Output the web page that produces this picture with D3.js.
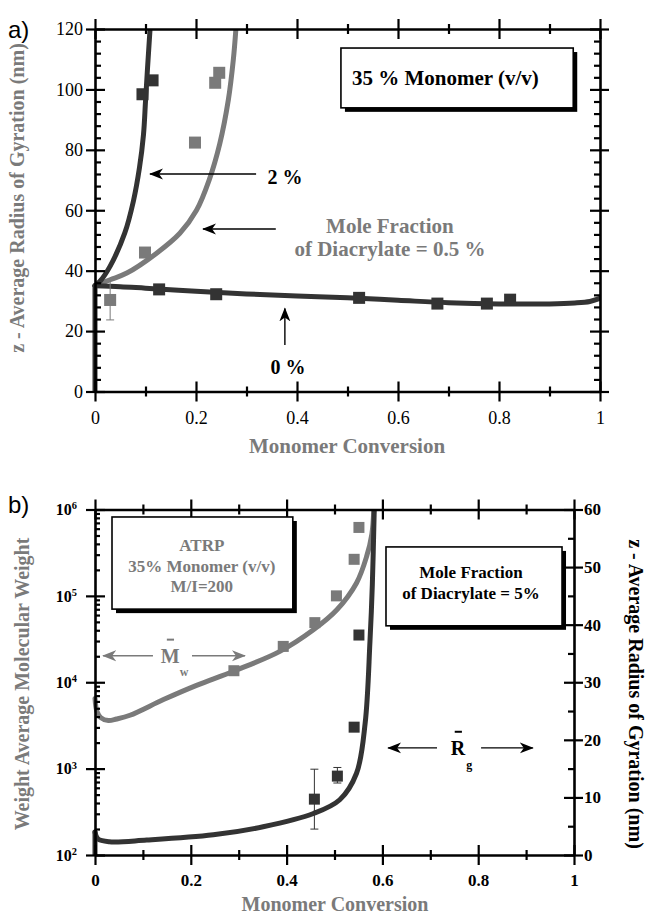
<!DOCTYPE html>
<html>
<head>
<meta charset="utf-8">
<script src="https://cdn.jsdelivr.net/npm/d3@7"></script>
<style>
body { margin: 0; background: #fff; }
text { font-family: "Liberation Serif", "Times New Roman", serif; }
.axis path, .axis line { stroke: #000; stroke-width: 2.2; }
.axis .domain { stroke-width: 2.6; }
</style>
</head>
<body>
<div id="chart"></div>
<script>
// ---------- data ----------
var convTicks = [0, 0.2, 0.4, 0.6, 0.8, 1],
    convMinor = [0.1, 0.3, 0.5, 0.7, 0.9];

// panel a: z-average Rg (nm) vs conversion
var rgTicksA = [0, 20, 40, 60, 80, 100, 120];
var rise0 = [[0, 0], [0, 35]];
var curve0 = [[0, 35], [0.05, 34.7], [0.1, 34.2], [0.2, 33.2], [0.3, 32.3], [0.4, 31.6], [0.5, 31], [0.6, 30.2],
              [0.7, 29.4], [0.8, 29], [0.9, 29], [0.95, 29.3], [0.98, 29.8], [1, 30.8]];
var curve2 = [[0, 35], [0.01, 36.5], [0.03, 41.5], [0.059, 52.5], [0.076, 63], [0.088, 74],
              [0.096, 85], [0.1, 96], [0.104, 107], [0.109, 120]];
var curve05 = [[0, 35], [0.03, 37], [0.063, 39.2], [0.122, 45.8], [0.168, 52.4], [0.201, 60],
               [0.226, 70], [0.247, 82], [0.264, 96.5], [0.274, 110], [0.279, 120]];
var pts0 = [[0.127, 33.8], [0.24, 32.2], [0.523, 31], [0.678, 29.1], [0.776, 29.1], [0.822, 30.4]];
var pts2 = [[0.094, 98.4], [0.114, 103]];
var pts05 = [[0.03, 30.3], [0.099, 46], [0.198, 82.4], [0.238, 102.2], [0.246, 105.5]];
var err05 = [[23.7, 36.9], null, null, null, null];

// panel b: Mw (left, log) and Rg (right) vs conversion, 5 % diacrylate
var mwTicks = [1e2, 1e3, 1e4, 1e5, 1e6],
    rgTicksB = [0, 10, 20, 30, 40, 50, 60],
    rgMinorB = [5, 15, 25, 35, 45, 55];
var curveMw = [[0, 6500], [0.004, 4600], [0.012, 3900], [0.028, 3600], [0.045, 3750], [0.073, 4150],
               [0.143, 6300], [0.212, 9200], [0.289, 13400], [0.386, 22800], [0.456, 40500],
               [0.505, 69000], [0.546, 141000], [0.567, 285000], [0.578, 520000], [0.582, 1e6]];
var ptsMw = [[0.29, 13600], [0.393, 26000], [0.459, 49000], [0.504, 100000], [0.541, 265000], [0.551, 620000]];
var riseRg = [[0, 0], [0, 4]];
var curveRg = [[0, 4], [0.006, 2.8], [0.03, 2.3], [0.108, 2.6], [0.247, 3.5], [0.351, 4.9],
               [0.456, 7.2], [0.511, 9.6], [0.546, 14.2], [0.564, 22.9], [0.574, 37], [0.579, 47], [0.583, 60]];
var ptsRg = [[0.458, 9.7], [0.506, 13.7], [0.541, 22.2], [0.551, 38.2]];
var errRg = [[4.5, 14.9], [12.5, 15.2], null, null];

// ---------- setup ----------
var width = 649, height = 914,
    dark = "#333", gray = "#7a7a7a",
    serif = "Liberation Serif, Times New Roman, serif";

var svg = d3.select("#chart").append("svg")
    .attr("width", width)
    .attr("height", height);

var defs = svg.append("defs");
[["ahDark", "#000"], ["ahGray", gray]].forEach(function (m) {
    defs.append("marker")
        .attr("id", m[0])
        .attr("viewBox", "0 -6 14 12")
        .attr("refX", 13).attr("refY", 0)
        .attr("markerWidth", 14).attr("markerHeight", 12)
        .attr("markerUnits", "userSpaceOnUse")
        .attr("orient", "auto")
        .append("path")
        .attr("d", "M0,-5.5L14,0L0,5.5L4,0Z")
        .attr("fill", m[1]);
});

function clip(id, x0, y0, x1, y1) {
    defs.append("clipPath").attr("id", id)
        .append("rect").attr("x", x0).attr("y", y0).attr("width", x1 - x0).attr("height", y1 - y0);
}

// crossing major ticks + inward minor ticks; returns the labelled axis group
function drawAxis(g, side, scale, major, minor, fmt, pad, outSize, inSize, minSize) {
    var out, inn;
    if (side == "left") { out = d3.axisLeft; inn = d3.axisRight; }
    if (side == "right") { out = d3.axisRight; inn = d3.axisLeft; }
    if (side == "bottom") { out = d3.axisBottom; inn = d3.axisTop; }
    if (side == "top") { out = d3.axisTop; inn = d3.axisBottom; }
    var main = g.append("g").attr("class", "axis")
        .call(out(scale).tickValues(major).tickSize(outSize).tickSizeOuter(0).tickPadding(pad).tickFormat(fmt || ""));
    g.append("g").attr("class", "axis")
        .call(inn(scale).tickValues(major).tickSize(inSize).tickSizeOuter(0).tickFormat(""))
        .select(".domain").remove();
    g.append("g").attr("class", "axis")
        .call(inn(scale).tickValues(minor).tickSize(minSize).tickSizeOuter(0).tickFormat(""))
        .select(".domain").remove();
    if (side == "top" || side == "bottom") {
        g.append("g").attr("class", "axis")
            .call(out(scale).tickValues(minor).tickSize(minSize).tickSizeOuter(0).tickFormat(""))
            .select(".domain").remove();
    }
    if (!fmt) main.selectAll(".tick text").remove();
    return main;
}

function shadowBox(x0, y0, x1, y1) {
    svg.append("rect").attr("x", x0 + 4).attr("y", y0 + 4)
        .attr("width", x1 - x0).attr("height", y1 - y0).attr("fill", "#000");
    svg.append("rect").attr("x", x0).attr("y", y0)
        .attr("width", x1 - x0).attr("height", y1 - y0)
        .attr("fill", "#fff").attr("stroke", "#000").attr("stroke-width", 1.6);
}

function label(x, y, txt, size, color, anchor, weight) {
    return svg.append("text").attr("x", x).attr("y", y)
        .attr("font-size", size).attr("fill", color)
        .attr("font-weight", weight || "bold")
        .attr("text-anchor", anchor || "middle")
        .style("font-family", serif)
        .text(txt);
}

function arrow(x0, y0, x1, y1, color, mk) {
    svg.append("line").attr("x1", x0).attr("y1", y0).attr("x2", x1).attr("y2", y1)
        .attr("stroke", color).attr("stroke-width", 1.4)
        .attr("marker-end", "url(#" + mk + ")");
}

function squares(g, data, x, y, color, size) {
    g.selectAll(null).data(data).enter().append("rect")
        .attr("x", function (d) { return x(d[0]) - size / 2; })
        .attr("y", function (d) { return y(d[1]) - size / 2; })
        .attr("width", size).attr("height", size)
        .attr("fill", color);
}

function errBars(g, data, errs, x, y, color) {
    data.forEach(function (d, i) {
        var e = errs[i];
        if (!e) return;
        var cx = x(d[0]);
        g.append("line").attr("x1", cx).attr("x2", cx).attr("y1", y(e[0])).attr("y2", y(e[1]))
            .attr("stroke", color).attr("stroke-width", 1);
        [e[0], e[1]].forEach(function (v) {
            g.append("line").attr("x1", cx - 4).attr("x2", cx + 4).attr("y1", y(v)).attr("y2", y(v))
                .attr("stroke", color).attr("stroke-width", 1);
        });
    });
}

function drawCurve(g, data, x, y, color, w) {
    g.append("path").datum(data)
        .attr("fill", "none").attr("stroke", color).attr("stroke-width", w)
        .attr("stroke-linejoin", "round").attr("stroke-linecap", "round")
        .attr("d", d3.line()
            .x(function (d) { return x(d[0]); })
            .y(function (d) { return y(d[1]); })
            .curve(d3.curveCatmullRom.alpha(0.5)));
}

// ================= panel a =================
var xA = d3.scaleLinear().domain([0, 1]).range([95, 600]),
    yA = d3.scaleLinear().domain([0, 120]).range([391.5, 29]);
var rgMinorA = d3.range(0, 121, 4).filter(function (v) { return v % 20 != 0; });

clip("clipA", 92, 29, 600, 391.5);
var plotA = svg.append("g").attr("clip-path", "url(#clipA)");

drawCurve(plotA, curve05, xA, yA, gray, 5);
drawCurve(plotA, curve2, xA, yA, dark, 5);
drawCurve(plotA, rise0, xA, yA, dark, 5);
drawCurve(plotA, curve0, xA, yA, dark, 5);
errBars(svg, pts05, err05, xA, yA, gray);
squares(svg, pts05, xA, yA, gray, 12);
squares(svg, pts2, xA, yA, dark, 12);
squares(svg, pts0, xA, yA, dark, 12);

var axA = svg.append("g");
drawAxis(axA.append("g").attr("transform", "translate(95,0)"), "left", yA, rgTicksA, rgMinorA, d3.format("d"), 3, 9, 10, 6);
drawAxis(axA.append("g").attr("transform", "translate(600,0)"), "right", yA, rgTicksA, rgMinorA, null, 3, 9, 10, 6);
drawAxis(axA.append("g").attr("transform", "translate(0,391.5)"), "bottom", xA, convTicks, convMinor, d3.format("~g"), 10, 10, 10, 5);
drawAxis(axA.append("g").attr("transform", "translate(0,29)"), "top", xA, convTicks, convMinor, null, 3, 10, 10, 5);
axA.selectAll("text").attr("font-size", 18).attr("fill", "#000").style("font-family", serif);

label(8, 38, "a)", 24, "#000", "start", "normal").style("font-family", "Liberation Sans, Arial, sans-serif");
label(0, 0, "z - Average Radius of Gyration (nm)", 20, gray)
    .attr("transform", "translate(24,198) rotate(-90)");
label(347, 453, "Monomer Conversion", 21, gray);

shadowBox(xA(0.487), yA(113.7), xA(0.947), yA(93.9));
label(xA(0.509), yA(101.3), "35 % Monomer (v/v)", 21, "#000", "start");

arrow(xA(0.319), yA(72), xA(0.109), yA(72), "#000", "ahDark");
label(xA(0.376), yA(68.7), "2 %", 20, "#000");
arrow(xA(0.358), yA(53.8), xA(0.214), yA(53.8), "#000", "ahDark");
label(xA(0.584), yA(52.5), "Mole Fraction", 21, gray);
label(xA(0.584), yA(44.8), "of Diacrylate = 0.5 %", 21, gray);
arrow(xA(0.376), yA(15.4), xA(0.376), yA(27.5), "#000", "ahDark");
label(xA(0.382), yA(5.8), "0 %", 20, "#000");

// ================= panel b =================
var xB = d3.scaleLinear().domain([0, 1]).range([95, 574]),
    yMw = d3.scaleLog().domain([1e2, 1e6]).range([855, 509.5]),
    yRg = d3.scaleLinear().domain([0, 60]).range([855, 509.5]);
var mwMinor = [];
[1e2, 1e3, 1e4, 1e5].forEach(function (dec) {
    for (var k = 2; k < 10; k++) mwMinor.push(k * dec);
});

clip("clipB", 92, 509.5, 574, 855);
var plotB = svg.append("g").attr("clip-path", "url(#clipB)");
drawCurve(plotB, curveMw, xB, yMw, gray, 5);
drawCurve(plotB, riseRg, xB, yRg, dark, 5);
drawCurve(plotB, curveRg, xB, yRg, dark, 5);
squares(svg, ptsMw, xB, yMw, gray, 11);
errBars(svg, ptsRg, errRg, xB, yRg, dark);
squares(svg, ptsRg, xB, yRg, dark, 11);

var axB = svg.append("g");
var leftB = drawAxis(axB.append("g").attr("transform", "translate(95,0)"), "left", yMw, mwTicks, mwMinor, function (d) { return d; }, 9, 9, 10, 5);
drawAxis(axB.append("g").attr("transform", "translate(574,0)"), "right", yRg, rgTicksB, rgMinorB, d3.format("d"), 1, 9, 10, 6);
drawAxis(axB.append("g").attr("transform", "translate(0,855)"), "bottom", xB, convTicks, convMinor, d3.format("~g"), 9, 10, 10, 5);
drawAxis(axB.append("g").attr("transform", "translate(0,509.5)"), "top", xB, convTicks, convMinor, null, 3, 10, 10, 5);
axB.selectAll("text").attr("font-size", 17).attr("font-weight", "bold").attr("fill", "#000").style("font-family", serif);
leftB.selectAll(".tick text").each(function (d) {
    var t = d3.select(this);
    t.text("10").attr("font-size", 16);
    t.append("tspan").attr("dy", "-0.55em").attr("font-size", "0.65em").text(Math.round(Math.log10(d)));
});

label(8, 513, "b)", 24, "#000", "start", "normal").style("font-family", "Liberation Sans, Arial, sans-serif");
label(0, 0, "Weight Average Molecular Weight", 20, gray)
    .attr("transform", "translate(29,684) rotate(-90)");
label(0, 0, "z - Average Radius of Gyration (nm)", 20, "#000")
    .attr("transform", "translate(629,694) rotate(90)");
label(335, 911, "Monomer Conversion", 20, gray);

shadowBox(xB(0.0355), yRg(58.7), xB(0.413), yRg(42.7));
label(xB(0.223), yRg(52.8), "ATRP", 17, gray);
label(xB(0.223), yRg(49.1), "35% Monomer (v/v)", 17, gray);
label(xB(0.223), yRg(45.7), "M/I=200", 17, gray);

shadowBox(xB(0.6075), yRg(53.5), xB(0.975), yRg(39.8));
label(xB(0.785), yRg(48.1), "Mole Fraction", 17, "#000");
label(xB(0.785), yRg(44.5), "of Diacrylate = 5%", 17, "#000");

// Mw arrows
arrow(xB(0.121), yRg(34.6), xB(0.017), yRg(34.6), gray, "ahGray");
arrow(xB(0.2025), yRg(34.6), xB(0.313), yRg(34.6), gray, "ahGray");
label(xB(0.157), yRg(33.4), "M", 20, gray);
svg.append("line").attr("x1", xB(0.150)).attr("x2", xB(0.165))
    .attr("y1", yRg(37.4)).attr("y2", yRg(37.4)).attr("stroke", gray).attr("stroke-width", 2);
label(xB(0.177), yRg(31.0), "w", 12, gray, "start");

// Rg arrows
arrow(xB(0.714), yRg(18.6), xB(0.612), yRg(18.6), "#000", "ahDark");
arrow(xB(0.806), yRg(18.6), xB(0.914), yRg(18.6), "#000", "ahDark");
label(xB(0.758), yRg(17.3), "R", 20, "#000");
svg.append("line").attr("x1", xB(0.751)).attr("x2", xB(0.766))
    .attr("y1", yRg(21.4)).attr("y2", yRg(21.4)).attr("stroke", "#000").attr("stroke-width", 2);
label(xB(0.775), yRg(15.0), "g", 12, "#000", "start");
</script>
</body>
</html>
